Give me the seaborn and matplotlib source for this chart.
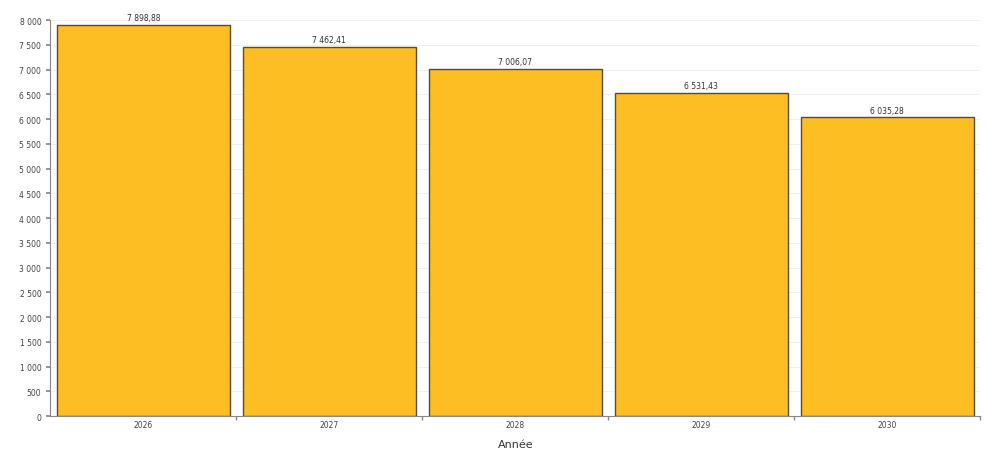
import matplotlib
matplotlib.use("Agg")
import matplotlib.pyplot as plt
import seaborn as sns
import pandas as pd
from matplotlib.ticker import FuncFormatter, MultipleLocator, FixedLocator

years = ["2026", "2027", "2028", "2029", "2030"]
values = [7898.88, 7462.41, 7006.07, 6531.43, 6035.28]


def fr_num(v, decimals=0):
    s = f"{v:,.{decimals}f}"
    return s.replace(",", " ").replace(".", ",")


df = pd.DataFrame({"Année": years, "Valeur": values})

sns.set_theme(style="white")
plt.rcParams["font.family"] = ["DejaVu Sans"]

fig = plt.figure(figsize=(9.88, 4.52), dpi=100)
ax = fig.add_axes([0.051, 0.077, 0.941, 0.876])

sns.barplot(data=df, x="Année", y="Valeur", color="#FCBE22", saturation=1,
            edgecolor="#5c4a2c", linewidth=1.0, width=0.93, ax=ax)

for i, v in enumerate(values):
    ax.text(i, v + 60, fr_num(v, 2), ha="center", va="bottom", fontsize=5.5, color="#333333")

ax.set_ylim(0, 8000)
ax.set_xlim(-0.5, len(years) - 0.5)
ax.yaxis.set_major_locator(MultipleLocator(500))
ax.yaxis.set_major_formatter(FuncFormatter(lambda v, p: fr_num(v)))
ax.grid(axis="y", color="#eeeeee", linewidth=0.6)
ax.set_axisbelow(True)

ax.xaxis.set_minor_locator(FixedLocator([i + 0.5 for i in range(len(years))]))
ax.tick_params(axis="x", which="major", length=0, labelsize=5.5, labelcolor="#444444", pad=3)
ax.tick_params(axis="x", which="minor", length=3, color="#888888", bottom=True)
ax.tick_params(axis="y", length=3, labelsize=5.5, labelcolor="#444444", color="#888888", left=True)

for side in ["top", "right"]:
    ax.spines[side].set_visible(False)
for side in ["left", "bottom"]:
    ax.spines[side].set_color("#888888")
    ax.spines[side].set_linewidth(0.8)

ax.set_xlabel("Année", fontsize=8, color="#333333", labelpad=7)
ax.set_ylabel("")

fig.savefig("out.png", dpi=100)
